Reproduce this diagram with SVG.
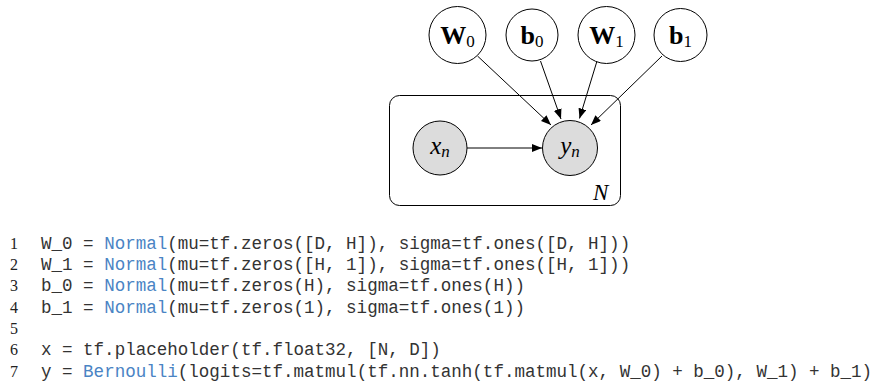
<svg xmlns="http://www.w3.org/2000/svg" width="878" height="383" viewBox="0 0 878 383">
<defs>
<marker id="arr" viewBox="0 0 10 8" refX="10" refY="4" markerWidth="10" markerHeight="8" markerUnits="userSpaceOnUse" orient="auto">
<path d="M0,0 L10,4 L0,8 z" fill="#000"/>
</marker>
<style>
.node{fill:#fff;stroke:#000;stroke-width:1}
.obs{fill:#dcdcdc;stroke:#000;stroke-width:1}
.plate{fill:none;stroke:#000;stroke-width:1}
.edge{stroke:#000;stroke-width:1;fill:none;marker-end:url(#arr)}
.bold{font-family:"Liberation Serif","DejaVu Serif",serif;font-weight:bold;font-size:26px;fill:#000}
.sub{font-family:"Liberation Serif","DejaVu Serif",serif;font-weight:normal;font-size:17px;fill:#000}
.it{font-family:"Liberation Serif","DejaVu Serif",serif;font-style:italic;font-size:25px;fill:#000}
.itsub{font-family:"Liberation Serif","DejaVu Serif",serif;font-style:italic;font-size:17px;fill:#000}
.code{font-family:"Liberation Mono","DejaVu Sans Mono",monospace;font-size:17.55px;fill:#333;white-space:pre}
.kw{fill:#4a84c4}
.ln{font-family:"Liberation Serif","DejaVu Serif",serif;font-size:16px;fill:#222}
</style>
</defs>
<g id="plate">
<rect class="plate" x="389.5" y="95.5" width="231" height="110" rx="10" ry="10"/>
<text class="it" x="593" y="200" style="font-size:23px">N</text>
</g>
<g id="connectors">
<line class="edge" x1="477.5" y1="56" x2="551" y2="125"/>
<line class="edge" x1="540.5" y1="61" x2="561" y2="119"/>
<line class="edge" x1="597" y1="61" x2="579.5" y2="118.5"/>
<line class="edge" x1="662" y1="56" x2="591" y2="125"/>
<line class="edge" x1="467" y1="148" x2="542" y2="148"/>
</g>
<g id="W0">
<circle class="node" cx="457.5" cy="35" r="28.5"/>
<text x="457.5" y="44" text-anchor="middle"><tspan class="bold">W</tspan><tspan class="sub" dy="3">0</tspan></text>
</g>
<g id="b0">
<circle class="node" cx="532" cy="35" r="26"/>
<text x="532" y="44" text-anchor="middle"><tspan class="bold">b</tspan><tspan class="sub" dy="3">0</tspan></text>
</g>
<g id="W1">
<circle class="node" cx="606.5" cy="35" r="28.5"/>
<text x="606.5" y="44" text-anchor="middle"><tspan class="bold">W</tspan><tspan class="sub" dy="3">1</tspan></text>
</g>
<g id="b1">
<circle class="node" cx="680.5" cy="35" r="26.5"/>
<text x="680.5" y="44" text-anchor="middle"><tspan class="bold">b</tspan><tspan class="sub" dy="3">1</tspan></text>
</g>
<g id="xn">
<circle class="obs" cx="440" cy="148" r="27"/>
<text x="440" y="154" text-anchor="middle"><tspan class="it">x</tspan><tspan class="itsub" dy="3">n</tspan></text>
</g>
<g id="yn">
<circle class="obs" cx="570" cy="148" r="27.5"/>
<text x="570" y="154" text-anchor="middle"><tspan class="it">y</tspan><tspan class="itsub" dy="3">n</tspan></text>
</g>
<g id="code">
<text class="ln" x="10" y="248.5">1</text>
<text class="ln" x="10" y="269.8">2</text>
<text class="ln" x="10" y="291.2">3</text>
<text class="ln" x="10" y="312.5">4</text>
<text class="ln" x="10" y="333.8">5</text>
<text class="ln" x="10" y="355.2">6</text>
<text class="ln" x="10" y="376.5">7</text>
<text class="code" x="41" y="248.5">W_0 = <tspan class="kw">Normal</tspan>(mu=tf.zeros([D, H]), sigma=tf.ones([D, H]))</text>
<text class="code" x="41" y="269.8">W_1 = <tspan class="kw">Normal</tspan>(mu=tf.zeros([H, 1]), sigma=tf.ones([H, 1]))</text>
<text class="code" x="41" y="291.2">b_0 = <tspan class="kw">Normal</tspan>(mu=tf.zeros(H), sigma=tf.ones(H))</text>
<text class="code" x="41" y="312.5">b_1 = <tspan class="kw">Normal</tspan>(mu=tf.zeros(1), sigma=tf.ones(1))</text>
<text class="code" x="41" y="355.2">x = tf.placeholder(tf.float32, [N, D])</text>
<text class="code" x="41" y="376.5">y = <tspan class="kw">Bernoulli</tspan>(logits=tf.matmul(tf.nn.tanh(tf.matmul(x, W_0) + b_0), W_1) + b_1)</text>
</g>
</svg>
